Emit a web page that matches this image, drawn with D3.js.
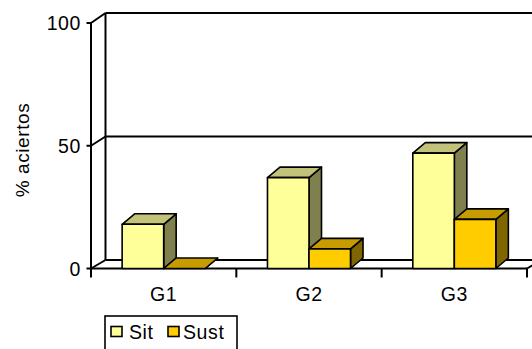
<!DOCTYPE html>
<html>
<head>
<meta charset="utf-8">
<script src="https://cdn.jsdelivr.net/npm/d3@7"></script>
<style>
  html, body { margin: 0; padding: 0; background: #fff; }
  svg { display: block; font-family: "Liberation Sans", Arial, sans-serif; }
</style>
</head>
<body>
<svg id="chart" width="532" height="349"></svg>
<script>
// Data
const categories = ["G1", "G2", "G3"];
const seriesNames = ["Sit", "Sust"];
const sitValues = [18, 37, 47];
const sustValues = [0, 8, 20];
const yTicks = [0, 50, 100];

// Colours per series: front, top, side
const faceColors = {
  Sit:  { front: "#FFFF99", top: "#C2C27A", side: "#80804E" },
  Sust: { front: "#FFCC00", top: "#C69C00", side: "#806600" }
};

const svg = d3.select("#chart");
const W = 532, H = 349;
const labelSize = 19.5, labelSpacing = 0.6;

// Plot frame (front plane) and depth offsets
const left = 91, right = 527;
const depthX = 14.5;
const barDX = 12.5, barDY = 10.5;

const yFront = d3.scaleLinear().domain([0, 100]).range([268.5, 23]);
const yBack  = d3.scaleLinear().domain([0, 100]).range([260, 13]);

const x0 = d3.scaleBand().domain(categories).range([left, right]).padding(0);
const B = x0.bandwidth();
const gapHalf = B * 1.5 / 3.5 / 2;
const x1 = d3.scaleBand().domain(seriesNames).range([gapHalf, B - gapHalf]).padding(0);

svg.append("defs").append("clipPath").attr("id", "clipAll")
  .append("rect").attr("x", 0).attr("y", 0).attr("width", W).attr("height", H);

const walls = svg.append("g").attr("clip-path", "url(#clipAll)")
  .attr("stroke", "#000").attr("stroke-width", 2).attr("fill", "none");

const backLeft = left + depthX, backRight = right + depthX;

// Back wall gridlines and side wall diagonals
yTicks.forEach(t => {
  walls.append("line")
    .attr("x1", backLeft).attr("x2", backRight)
    .attr("y1", yBack(t)).attr("y2", yBack(t));
  walls.append("line")
    .attr("x1", left).attr("y1", yFront(t))
    .attr("x2", backLeft).attr("y2", yBack(t));
});
// Back wall edges
walls.append("line")
  .attr("x1", backLeft).attr("x2", backLeft)
  .attr("y1", yBack(100)).attr("y2", yBack(0));
walls.append("line")
  .attr("x1", backRight).attr("x2", backRight)
  .attr("y1", yBack(100)).attr("y2", yBack(0));
// Front value axis
walls.append("line")
  .attr("x1", left).attr("x2", left)
  .attr("y1", yFront(100)).attr("y2", yFront(0));
// Floor front edge and right diagonal
walls.append("line")
  .attr("x1", left).attr("x2", right)
  .attr("y1", yFront(0)).attr("y2", yFront(0));
walls.append("line")
  .attr("x1", right).attr("y1", yFront(0))
  .attr("x2", backRight).attr("y2", yBack(0));

// Value-axis ticks and labels
const yAxisG = svg.append("g");
yTicks.forEach(t => {
  yAxisG.append("line")
    .attr("x1", left - 4.5).attr("x2", left)
    .attr("y1", yFront(t)).attr("y2", yFront(t))
    .attr("stroke", "#000").attr("stroke-width", 2);
  yAxisG.append("text")
    .attr("x", 81).attr("y", yFront(t) + 7.3)
    .attr("text-anchor", "end")
    .attr("font-size", labelSize)
    .attr("letter-spacing", labelSpacing)
    .attr("fill", "#000")
    .text(t);
});

// Category ticks and labels
const boundaries = categories.map(c => x0(c)).concat([right]);
boundaries.forEach(bx => {
  svg.append("line")
    .attr("x1", bx).attr("x2", bx)
    .attr("y1", yFront(0)).attr("y2", yFront(0) + 9)
    .attr("stroke", "#000").attr("stroke-width", 2);
});
categories.forEach(c => {
  svg.append("text")
    .attr("x", x0(c) + B / 2).attr("y", 300.8)
    .attr("text-anchor", "middle")
    .attr("font-size", labelSize)
    .attr("letter-spacing", labelSpacing)
    .attr("fill", "#000")
    .text(c);
});

// Axis title
svg.append("text")
  .attr("transform", "translate(29,150) rotate(-90)")
  .attr("text-anchor", "middle")
  .attr("font-size", 19)
  .attr("letter-spacing", labelSpacing)
  .attr("fill", "#000")
  .text("% aciertos");

// 3D columns
const seriesData = { Sit: sitValues, Sust: sustValues };
const bars = svg.append("g").attr("stroke", "#000").attr("stroke-width", 1.6)
  .attr("stroke-linejoin", "round");

categories.forEach((c, i) => {
  seriesNames.forEach(s => {
    const v = seriesData[s][i];
    const xa = x0(c) + x1(s);
    const xb = xa + x1.bandwidth();
    const yt = yFront(v);
    const yb = yFront(0);
    const col = faceColors[s];
    const g = bars.append("g");
    // side face
    g.append("path")
      .attr("d", d3.line()([[xb, yt], [xb + barDX, yt - barDY], [xb + barDX, yb - barDY], [xb, yb]]) + "Z")
      .attr("fill", col.side);
    // top face
    g.append("path")
      .attr("d", d3.line()([[xa, yt], [xa + barDX, yt - barDY], [xb + barDX, yt - barDY], [xb, yt]]) + "Z")
      .attr("fill", col.top);
    // front face
    g.append("rect")
      .attr("x", xa).attr("y", yt)
      .attr("width", xb - xa).attr("height", Math.max(0, yb - yt))
      .attr("fill", col.front);
  });
});

// Legend
const legend = svg.append("g");
legend.append("rect")
  .attr("x", 105).attr("y", 316).attr("width", 132).attr("height", 40)
  .attr("fill", "#fff").attr("stroke", "#000").attr("stroke-width", 1.6);
const legendItems = [
  { name: "Sit", sx: 111, tx: 129 },
  { name: "Sust", sx: 168, tx: 183 }
];
legendItems.forEach(it => {
  legend.append("rect")
    .attr("x", it.sx).attr("y", 326.5).attr("width", 11).attr("height", 10)
    .attr("fill", faceColors[it.name].front)
    .attr("stroke", "#000").attr("stroke-width", 1.6);
  legend.append("text")
    .attr("x", it.tx).attr("y", 339.3)
    .attr("font-size", labelSize)
    .attr("letter-spacing", labelSpacing)
    .attr("fill", "#000")
    .text(it.name);
});
</script>
</body>
</html>
